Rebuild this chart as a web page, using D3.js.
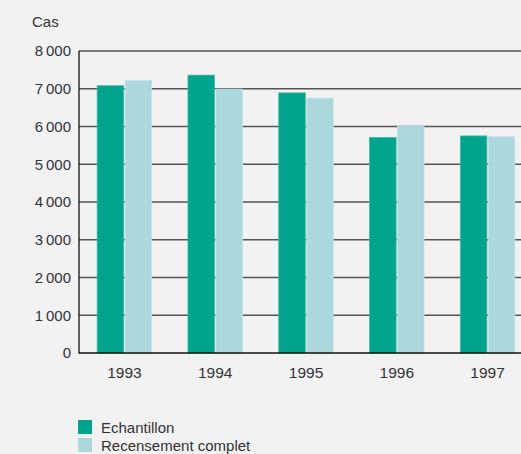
<!DOCTYPE html>
<html><head><meta charset="utf-8">
<script src="https://cdn.jsdelivr.net/npm/d3@7"></script>
<style>
html,body{margin:0;padding:0;background:#f2f2f2;}
svg{display:block;font-family:"Liberation Sans",Arial,sans-serif;}
</style></head>
<body>
<script>
const years = ["1993","1994","1995","1996","1997"];
const echantillon = [7080, 7360, 6890, 5710, 5750];
const recensement = [7220, 6990, 6750, 6010, 5730];
const seriesNames = ["Echantillon","Recensement complet"];
const seriesColors = ["#00a48c","#acd7dd"];
const yTicks = [0,1000,2000,3000,4000,5000,6000,7000,8000];

(function(){
const W = 521, H = 454;
const svg = d3.select("body").append("svg").attr("width", W).attr("height", H);
svg.append("rect").attr("width", W).attr("height", H).attr("fill", "#f2f2f2");

const mLeft = 79, mRight = 533, mTop = 51, mBottom = 353;
const x = d3.scaleBand().domain(years).range([mLeft, mRight]).paddingInner(0.4).paddingOuter(0.2);
const xs = d3.scaleBand().domain(seriesNames).range([0, x.bandwidth()]).paddingInner(0.05);
const y = d3.scaleLinear().domain([0, 8000]).range([mBottom, mTop]);

const loc = d3.formatLocale({decimal:",", thousands:"\u2009", grouping:[3], currency:["",""]});
const fmt = loc.format(",d");

svg.append("g").selectAll("line").data(yTicks.filter(d => d > 0)).join("line")
  .attr("x1", mLeft).attr("x2", W).attr("y1", d => y(d)).attr("y2", d => y(d))
  .attr("stroke", "#555").attr("stroke-width", 1.3);

const data = years.map((yr, i) => ({yr, vals: [echantillon[i], recensement[i]]}));
const g = svg.append("g").selectAll("g").data(data).join("g")
  .attr("transform", d => `translate(${x(d.yr)},0)`);
g.selectAll("rect").data(d => d.vals.map((v, j) => ({v, j}))).join("rect")
  .attr("x", d => xs(seriesNames[d.j]))
  .attr("width", xs.bandwidth())
  .attr("y", d => y(d.v))
  .attr("height", d => y(0) - y(d.v))
  .attr("fill", d => seriesColors[d.j])
  .attr("stroke", d => d.j === 0 ? "#3db8a4" : "#c4e3e7")
  .attr("stroke-width", 0.8);

const yAxis = d3.axisLeft(y).tickValues(yTicks).tickFormat(fmt).tickSize(0).tickPadding(8);
const ya = svg.append("g").attr("transform", `translate(${mLeft},0)`).call(yAxis);
ya.select(".domain").remove();
ya.selectAll("text").attr("font-size", 15).attr("fill", "#333");

const xAxis = d3.axisBottom(x).tickSize(0).tickPadding(14);
const xa = svg.append("g").attr("transform", `translate(0,${mBottom})`).call(xAxis);
xa.select(".domain").remove();
xa.selectAll("text").attr("font-size", 15.5).attr("fill", "#333");

svg.append("line").attr("x1", mLeft).attr("x2", mLeft).attr("y1", mTop).attr("y2", mBottom + 0.5)
  .attr("stroke", "#111").attr("stroke-width", 1.3);
svg.append("line").attr("x1", mLeft).attr("x2", W).attr("y1", mBottom).attr("y2", mBottom)
  .attr("stroke", "#111").attr("stroke-width", 1.3);

svg.append("text").attr("x", 32).attr("y", 27).attr("font-size", 15).attr("fill", "#333").text("Cas");

const lg = svg.append("g").selectAll("g").data(seriesNames).join("g")
  .attr("transform", (d, i) => `translate(78,${420 + i * 18})`);
lg.append("rect").attr("width", 14).attr("height", 14).attr("fill", (d, i) => seriesColors[i]);
lg.append("text").attr("x", 23).attr("y", 13).attr("font-size", 15).attr("fill", "#333").text(d => d);
})();
</script>
</body></html>
